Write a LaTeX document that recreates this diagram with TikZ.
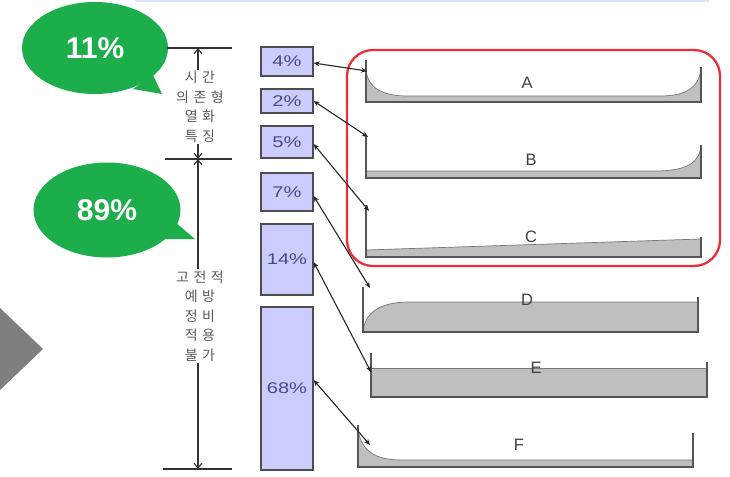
\documentclass[tikz,border=0pt]{standalone}
\usepackage{fontspec}
\usepackage{graphicx}
\setmainfont{Liberation Sans}
\newfontfamily\krfont[LetterSpace=32]{Noto Sans CJK KR}
\usetikzlibrary{shapes.geometric,arrows.meta}
\definecolor{bgreen}{HTML}{1BAE4B}
\definecolor{boxfill}{HTML}{CCCCFF}
\definecolor{boxtext}{HTML}{4A4A85}
\definecolor{boxline}{HTML}{4D4D4D}
\definecolor{pfill}{HTML}{BFBFBF}
\definecolor{pline}{HTML}{555555}
\definecolor{redbox}{HTML}{E8303A}
\definecolor{topline}{HTML}{D6E6F8}
\definecolor{dimtext}{HTML}{5A5A5A}
\definecolor{tri}{HTML}{7F7F7F}
\tikzset{
  bubble/.style={ellipse, fill=bgreen, inner sep=0pt, text=white, font=\bfseries\fontsize{30}{32}\selectfont},
  pbox/.style={draw=boxline, line width=1.2pt, fill=boxfill, inner sep=0pt, text=boxtext, font=\fontsize{15.5}{16}\selectfont, minimum width=52pt},
  dimtxt/.style={align=center, text=dimtext, font=\krfont\fontsize{14}{19.5}\selectfont, inner sep=1pt},
  dimline/.style={draw=black!80, line width=1.1pt},
  dimarrow/.style={dimline, -{Straight Barb[length=5pt,width=8pt]}},
  link/.style={draw=black!85, line width=1.1pt, {Stealth[length=6pt,width=5pt]}-{Stealth[length=6pt,width=5pt]}},
  profline/.style={draw=pline, line width=1.6pt},
  profedge/.style={draw=pline!80, line width=0.7pt},
  plabel/.style={text=black!75, font=\fontsize{16.5}{17}\selectfont, inner sep=0pt}
}
\begin{document}
\begin{tikzpicture}[x=1pt,y=-1pt]
\useasboundingbox (0,0) rectangle (730,476);
% top line
\draw[topline, line width=1.5pt] (135,1) -- (709,1);
% gray triangle
\fill[tri] (0,308) -- (43,349) -- (0,390) -- cycle;
% bubbles
\fill[bgreen] (153,75) -- (162,94) -- (133,89) -- cycle;
\node[bubble, minimum width=146pt, minimum height=92pt] (b11) at (95,48) {11\%};
\fill[bgreen] (175,222) -- (195,239) -- (163,239) -- cycle;
\node[bubble, minimum width=147pt, minimum height=95pt] (b89) at (107,210) {89\%};
% dimension ticks
\draw[dimline] (167,48) -- (232,48);
\draw[dimline] (165,159) -- (232,159);
\draw[dimline] (163,469) -- (232,469);
\coordinate (d1) at (198,48);
\coordinate (d2) at (198,159);
\coordinate (d3) at (198,469);
\node[dimtxt] (t1) at (200,107) {시간\\의존형\\열화\\특징};
\node[dimtxt] (t2) at (200,316) {고전적\\예방\\정비\\적용\\불가};
\draw[dimarrow] (t1.north -| d1) -- (d1);
\draw[dimarrow] (t1.south -| d1) -- (d2);
\draw[dimarrow] (t2.north -| d1) -- (d2);
\draw[dimarrow] (t2.south -| d1) -- (d3);
% percent boxes
\node[pbox, minimum height=29pt] (p4) at (287,61.5) {\scalebox{1.3}[1]{4\%}};
\node[pbox, minimum height=24pt] (p2) at (287,101) {\scalebox{1.3}[1]{2\%}};
\node[pbox, minimum height=32pt] (p5) at (287,142) {\scalebox{1.3}[1]{5\%}};
\node[pbox, minimum height=38pt] (p7) at (287,192) {\scalebox{1.3}[1]{7\%}};
\node[pbox, minimum height=71pt] (p14) at (287,259.5) {\scalebox{1.3}[1]{14\%}};
\node[pbox, minimum height=163pt] (p68) at (287,388.5) {\scalebox{1.3}[1]{68\%}};
% red frame
\draw[redbox, line width=2.3pt, rounded corners=26pt] (347,50) rectangle (720,266);
% profile A
\fill[pfill] (366,70) .. controls (368,88) and (382,96) .. (408,96) -- (660,96) .. controls (688,96) and (700,86) .. (701,67) -- (701,102) -- (366,102) -- cycle;
\draw[profedge] (366,70) .. controls (368,88) and (382,96) .. (408,96) -- (660,96) .. controls (688,96) and (700,86) .. (701,67);
\draw[profline] (366,60) -- (366,102) -- (701,102) -- (701,67);
\coordinate (pA) at (367,71);
\node[plabel] (lA) at (527,83) {A};
% profile B
\fill[pfill] (366,171) -- (655,171) .. controls (688,171) and (700,162) .. (701,145) -- (701,178) -- (366,178) -- cycle;
\draw[profedge] (366,171) -- (655,171) .. controls (688,171) and (700,162) .. (701,145);
\draw[profline] (366,135) -- (366,178) -- (701,178) -- (701,145);
\coordinate (pB) at (368,137);
\node[plabel] (lB) at (531,160) {B};
% profile C
\fill[pfill] (366,250) -- (701,239) -- (701,257) -- (366,257) -- cycle;
\draw[profedge] (366,250) -- (701,239);
\draw[profline] (366,205) -- (366,257) -- (701,257) -- (701,237);
\coordinate (pC) at (369,211);
\node[plabel] (lC) at (531,237) {C};
% profile D
\fill[pfill] (363,332) .. controls (365,312) and (380,302) .. (410,302) -- (698,302) -- (698,332) -- cycle;
\draw[profedge] (363,332) .. controls (365,312) and (380,302) .. (410,302) -- (698,302);
\draw[profline] (363,287) -- (363,332) -- (698,332) -- (698,297);
\coordinate (pD) at (370,288);
\node[plabel] (lD) at (527,300) {D};
% profile E
\fill[pfill] (371,368) rectangle (707,397);
\draw[profedge] (371,368) -- (707,368);
\draw[profline] (371,353) -- (371,397) -- (707,397) -- (707,362);
\coordinate (pE) at (371,372);
\node[plabel] (lE) at (536,368) {E};
% profile F
\fill[pfill] (358,430) .. controls (362,452) and (376,460) .. (402,460) -- (693,460) -- (693,467) -- (358,467) -- cycle;
\draw[profedge] (358,430) .. controls (362,452) and (376,460) .. (402,460) -- (693,460);
\draw[profline] (358,425) -- (358,467) -- (693,467) -- (693,433);
\coordinate (pF) at (370,445);
\node[plabel] (lF) at (519,445) {F};
% links
\draw[link] ([yshift=-1.5pt]p4.east) -- (pA);
\draw[link] (p2.east) -- (pB);
\draw[link] ([yshift=-2pt]p5.east) -- (pC);
\draw[link] ([yshift=-4pt]p7.east) -- (pD);
\draw[link] ([yshift=-2.5pt]p14.east) -- (pE);
\draw[link] ([yshift=8.5pt]p68.east) -- (pF);
\end{tikzpicture}
\end{document}
